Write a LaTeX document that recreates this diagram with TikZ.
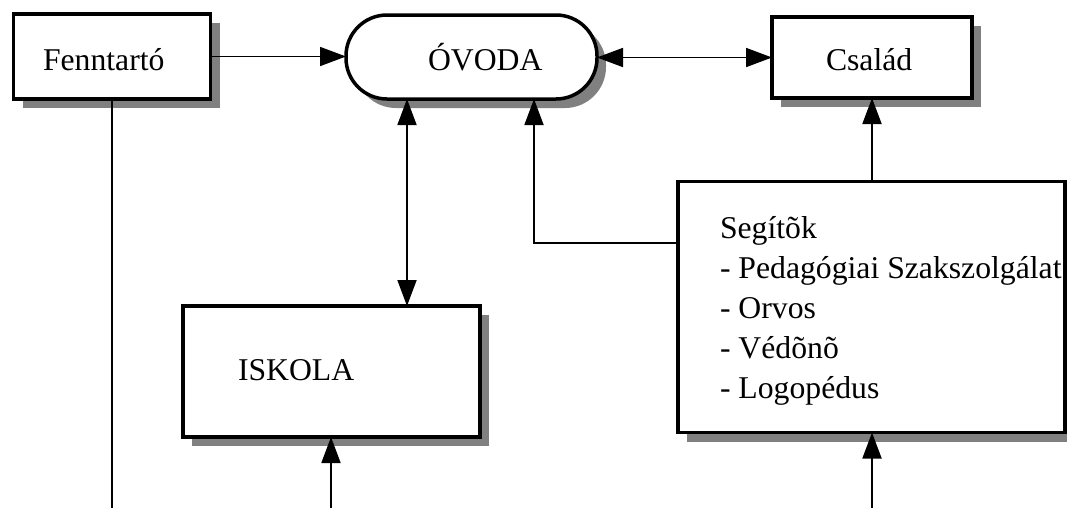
\documentclass[tikz,border=0pt]{standalone}
\usepackage{fontspec}
\setmainfont{Liberation Serif}
\usetikzlibrary{arrows.meta,shadows}
\begin{document}
\begin{tikzpicture}[x=1pt,y=-1pt,
  box/.style={draw, line width=3.5pt, fill=white, inner sep=0pt, outer sep=0pt,
    drop shadow={shadow xshift=9pt, shadow yshift=-9pt, fill=black!50, draw=none, opacity=1}},
  lbl/.style={inner sep=0pt, outer sep=0pt, anchor=base west, font=\fontsize{31.7}{40}\selectfont},
  conn/.style={line width=1.8pt},
  arr/.style={conn, -{Triangle[length=26pt,width=19pt]}},
  darr/.style={conn, {Triangle[length=26pt,width=19pt]}-{Triangle[length=26pt,width=19pt]}}]
\useasboundingbox (0,0) rectangle (1067,507);
% boxes
\node[box, minimum width=197pt, minimum height=85pt] (fenn) at (112,56.5) {};
\node[box, rounded corners=41pt, minimum width=251pt, minimum height=84pt] (ovoda) at (471.5,57) {};
\node[box, minimum width=200pt, minimum height=81pt] (csalad) at (872,57.5) {};
\node[box, minimum width=387pt, minimum height=251pt] (seg) at (871.5,307) {};
\node[box, minimum width=297pt, minimum height=131pt] (iskola) at (331.5,371.5) {};
% labels
\node[lbl] (tfenn) at (43,70) {Fenntartó};
\node[lbl] (tovoda) at (428,70) {ÓVODA};
\node[lbl] (tcsalad) at (826,70) {Család};
\node[lbl] (tiskola) at (238,380) {ISKOLA};
\node[lbl] (seg1) at (720,238) {Segítõk};
\node[lbl] (seg2) at (720,278) {- Pedagógiai Szakszolgálat};
\node[lbl] (seg3) at (720,318) {- Orvos};
\node[lbl] (seg4) at (720,358) {- Védõnõ};
\node[lbl] (seg5) at (720,398) {- Logopédus};
% helper coordinates
\coordinate (xov) at (407,0);
\coordinate (bend) at (534,243);
\coordinate (fennend) at (112,512);
\coordinate (iskend) at (331,512);
\coordinate (segend) at (872,512);
% connectors
\draw[arr] (fenn.east) -- (ovoda.west |- fenn.east);
\draw[darr] (ovoda.east |- csalad.west) -- (csalad.west);
\draw[darr] (ovoda.south -| xov) -- (iskola.north -| xov);
\draw[arr] (seg.west |- bend) -- (bend) -- (ovoda.south -| bend);
\draw[arr] (seg.north -| csalad.south) -- (csalad.south);
\draw[conn] (fenn.south) -- (fennend);
\draw[arr] (iskend) -- (iskola.south -| iskend);
\draw[arr] (segend) -- (seg.south -| segend);
\end{tikzpicture}
\end{document}
